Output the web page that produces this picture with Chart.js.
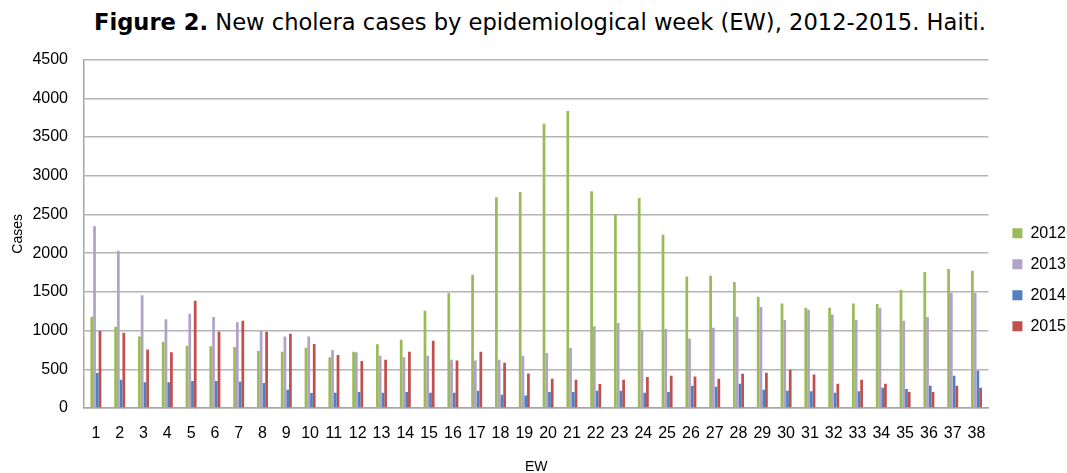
<!DOCTYPE html>
<html>
<head>
<meta charset="utf-8">
<script src="https://cdn.jsdelivr.net/npm/chart.js@4/dist/chart.umd.min.js"></script>
<style>
  body { margin: 0; background: #fff; width: 1067px; height: 473px; overflow: hidden; }
  #title { position: absolute; left: 0; top: 9px; width: 1080px; text-align: center;
           font-family: "DejaVu Sans", sans-serif; font-size: 22.6px; color: #000; }
  #wrap { position: absolute; left: 0; top: 34px; width: 1067px; height: 442px; }
</style>
</head>
<body>
<div id="title"><b>Figure 2.</b> New cholera cases by epidemiological week (EW), 2012-2015. Haiti.</div>
<div id="wrap"><canvas id="chart"></canvas></div>
<script>
const weeks = [];
for (let i = 1; i <= 38; i++) weeks.push(String(i));

const cases2012 = [1180, 1050, 925, 857, 805, 796, 788, 736, 727, 779,
                   654, 727, 822, 882, 1257, 1486, 1722, 2721, 2790, 3673,
                   3837, 2799, 2497, 2713, 2239, 1700, 1709, 1628, 1438, 1351,
                   1296, 1296, 1351, 1343, 1524, 1757, 1796, 1774];
const cases2013 = [2346, 2032, 1455, 1145, 1218, 1175, 1106, 995, 925, 925,
                   749, 719, 676, 654, 676, 624, 615, 624, 676, 710,
                   775, 1055, 1098, 1012, 1020, 899, 1037, 1180, 1305, 1137,
                   1270, 1209, 1137, 1296, 1128, 1175, 1486, 1486];
const cases2014 = [452, 366, 331, 331, 348, 348, 340, 323, 236, 194,
                   198, 207, 198, 207, 198, 198, 224, 172, 163, 207,
                   207, 224, 224, 198, 207, 288, 275, 314, 236, 224,
                   215, 198, 215, 262, 245, 288, 417, 482];
const cases2015 = [995, 973, 757, 719, 1386, 986, 1128, 986, 960, 827,
                   684, 607, 624, 727, 870, 615, 727, 585, 447, 378,
                   366, 310, 366, 400, 417, 408, 378, 443, 456, 495,
                   434, 314, 366, 314, 207, 207, 288, 262];
const yTicks = [0, 500, 1000, 1500, 2000, 2500, 3000, 3500, 4000, 4500];

const tickFont = { family: 'Liberation Sans', size: 16 };

function makeSet(label, data, color) {
  return {
    label: label,
    data: data,
    backgroundColor: color,
    borderWidth: 0,
    categoryPercentage: 0.46,
    barPercentage: 1.0
  };
}

// nudge the legend a little to the right, away from the plot
const legendShift = {
  id: 'legendShift',
  afterLayout(chart) {
    chart.legend.left += 9;
    chart.legend.right += 9;
  }
};

new Chart(document.getElementById('chart'), {
  type: 'bar',
  data: {
    labels: weeks,
    datasets: [
      makeSet('2012', cases2012, '#9bbb59'),
      makeSet('2013', cases2013, '#b3a2c7'),
      makeSet('2014', cases2014, '#4f81bd'),
      makeSet('2015', cases2015, '#c0504d')
    ]
  },
  plugins: [legendShift],
  options: {
    responsive: true,
    maintainAspectRatio: false,
    animation: false,
    layout: { padding: { top: 0, right: 0, left: 0, bottom: 0 } },
    plugins: {
      tooltip: { enabled: false },
      legend: {
        position: 'right',
        title: { display: true, text: ' ', padding: { top: 35, bottom: 0 } },
        labels: {
          boxWidth: 10, boxHeight: 10, padding: 15,
          color: '#000', font: { family: 'Liberation Sans', size: 16 }
        }
      }
    },
    scales: {
      x: {
        afterFit: (axis) => { axis.height = 68; },
        grid: { display: false, drawTicks: false },
        border: { color: '#a6a6a6', width: 1.5 },
        ticks: { color: '#000', font: tickFont, autoSkip: false, maxRotation: 0, padding: 16 },
        title: { display: true, text: 'EW', color: '#000', font: { family: 'Liberation Sans', size: 14 }, padding: { top: 0, bottom: 0 } }
      },
      y: {
        min: 0, max: 4500,
        afterFit: (axis) => { axis.width = 84; },
        afterBuildTicks: (axis) => { axis.ticks = yTicks.map(v => ({ value: v })); },
        grid: { color: '#b4b4b4', lineWidth: 1.5, drawTicks: false },
        border: { color: '#a6a6a6', width: 1.5 },
        ticks: { color: '#000', font: tickFont, padding: 16, callback: (v) => String(v) },
        title: { display: true, text: 'Cases', color: '#000', font: { family: 'Liberation Sans', size: 14 }, padding: { top: 10, bottom: 0 } }
      }
    }
  }
});
</script>
</body>
</html>
